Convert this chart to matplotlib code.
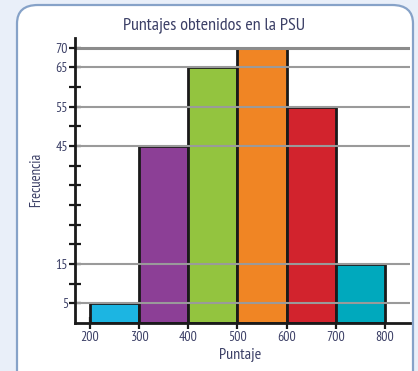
import matplotlib
matplotlib.use("Agg")
import matplotlib.pyplot as plt
from matplotlib.patches import FancyBboxPatch
import matplotlib.font_manager as fm

# Score histogram data
bin_edges = [200, 300, 400, 500, 600, 700, 800]
frequencies = [5, 45, 65, 70, 55, 15]
bar_colors = ["#1cb5e2", "#8c3f96", "#93c43f", "#f08524", "#d2232d", "#00a9bd"]
labeled_ticks = [5, 15, 45, 55, 65, 70]
x_ticks = [200, 300, 400, 500, 600, 700, 800]

title = "Puntajes obtenidos en la PSU"
xlabel = "Puntaje"
ylabel = "Frecuencia"

names = {f.name for f in fm.fontManager.ttflist}
family = [n for n in ["PT Sans Narrow", "Fira Sans Extra Condensed"] if n in names] + ["DejaVu Sans"]
plt.rcParams["font.family"] = family
text_color = "#3b3f66"

W, H = 418, 371
fig = plt.figure(figsize=(W / 100, H / 100), dpi=100)
fig.patch.set_facecolor("#e9eff9")

# rounded white panel
panel = FancyBboxPatch((17 / W, -20 / H), 396 / W, (H - 5 + 20) / H,
                       boxstyle="round,pad=0,rounding_size=0.05",
                       transform=fig.transFigure, facecolor="white",
                       edgecolor="#86a2c8", linewidth=1.6, zorder=-5)
fig.patches.append(panel)

ax = fig.add_axes([75 / W, (H - 323) / H, (410 - 75) / W, (323 - 38) / H])
ax.set_zorder(2)
ax.set_facecolor("none")
ax.set_xlim(169.5, 851)
ax.set_ylim(0, 72.5)

widths = [b - a for a, b in zip(bin_edges[:-1], bin_edges[1:])]
ax.bar(bin_edges[:-1], frequencies, width=widths, align="edge",
       color=bar_colors, edgecolor="#1a1a1a", linewidth=2, zorder=2)

# horizontal reference lines drawn over the bars
for v in labeled_ticks:
    lw = 2.2 if v == max(labeled_ticks) else 1.5
    col = "#8c8c8c" if v == max(labeled_ticks) else "#9a9a9a"
    ax.axhline(v, color=col, linewidth=lw, zorder=3)

for s in ["top", "right"]:
    ax.spines[s].set_visible(False)
for s in ["left", "bottom"]:
    ax.spines[s].set_linewidth(2)
    ax.spines[s].set_color("#1a1a1a")
    ax.spines[s].set_zorder(4)

ax.set_yticks(list(range(5, 75, 5)))
ax.set_yticklabels([str(v) if v in labeled_ticks else "" for v in range(5, 75, 5)])
ax.tick_params(axis="y", direction="inout", length=8, width=1.6, color="#1a1a1a",
               labelsize=10, labelcolor=text_color, pad=1)
ax.set_xticks(x_ticks)
ax.set_xticklabels([str(v) for v in x_ticks])
ax.tick_params(axis="x", direction="inout", length=8, width=1.6, color="#1a1a1a",
               labelsize=10, labelcolor=text_color, pad=2)

fig.text(214 / W, 1 - 25 / H, title, ha="center", va="center",
         fontsize=13, color=text_color)
fig.text(240 / W, 1 - 355 / H, xlabel, ha="center", va="center",
         fontsize=11.5, color=text_color)
fig.text(36 / W, 1 - 180 / H, ylabel, ha="center", va="center",
         rotation=90, fontsize=10.5, color=text_color)

fig.savefig("out.png", dpi=100, facecolor=fig.get_facecolor())
